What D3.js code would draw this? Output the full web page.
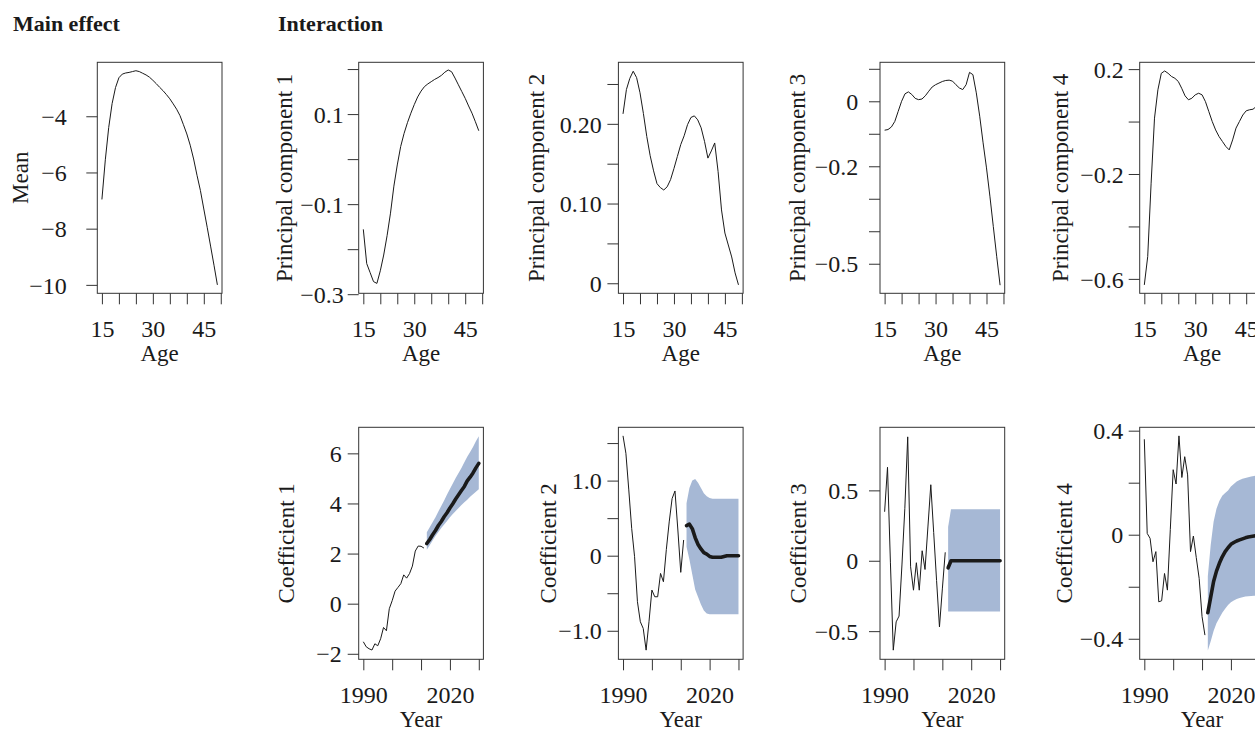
<!DOCTYPE html>
<html>
<head>
<meta charset="utf-8">
<script src="https://cdn.jsdelivr.net/npm/d3@7"></script>
<style>
  body { margin: 0; background: #fff; }
  svg { display: block; }
</style>
</head>
<body>
<svg id="chart" width="1255" height="731"></svg>
<script>
// ---------------- DATA ----------------
const ages = d3.range(15, 50);              // 15..49
const histYears = d3.range(1990, 2012);     // 1990..2011
const fcYears = d3.range(2012, 2031);       // 2012..2030

const meanEffect = [-6.96, -5.55, -4.4, -3.55, -2.98, -2.63, -2.5, -2.46, -2.44, -2.41, -2.38, -2.41, -2.47, -2.53, -2.61,
  -2.72, -2.84, -2.97, -3.09, -3.23, -3.38, -3.56, -3.75, -3.98, -4.3, -4.63, -5.03, -5.52, -6.1, -6.64,
  -7.3, -7.95, -8.62, -9.3, -10.0];
const pc1 = [-0.156, -0.232, -0.252, -0.272, -0.276, -0.248, -0.213, -0.17, -0.12, -0.06, -0.013, 0.028, 0.057, 0.081, 0.102,
  0.121, 0.138, 0.151, 0.161, 0.167, 0.172, 0.177, 0.181, 0.186, 0.193, 0.198, 0.194, 0.180, 0.165, 0.150,
  0.135, 0.118, 0.102, 0.083, 0.063];
const pc2 = [0.2125, 0.243, 0.257, 0.266, 0.258, 0.239, 0.213, 0.184, 0.160, 0.141, 0.125, 0.120, 0.117, 0.121, 0.130,
  0.144, 0.159, 0.174, 0.185, 0.199, 0.208, 0.210, 0.205, 0.195, 0.178, 0.157, 0.166, 0.176, 0.140, 0.092,
  0.063, 0.048, 0.033, 0.013, -0.002];
const pc3 = [-0.089, -0.087, -0.079, -0.062, -0.031, 0.0, 0.023, 0.029, 0.021, 0.009, 0.005, 0.007, 0.017, 0.031, 0.044,
  0.051, 0.056, 0.061, 0.064, 0.065, 0.062, 0.051, 0.041, 0.036, 0.051, 0.089, 0.082, 0.026, -0.046, -0.128,
  -0.205, -0.292, -0.385, -0.477, -0.566];
const pc4 = [-0.623, -0.515, -0.235, 0.013, 0.121, 0.184, 0.193, 0.184, 0.172, 0.165, 0.153, 0.127, 0.098, 0.083, 0.089,
  0.102, 0.108, 0.102, 0.076, 0.038, 0.0, -0.032, -0.057, -0.076, -0.095, -0.108, -0.07, -0.025, 0.0, 0.025,
  0.041, 0.045, 0.047, 0.058, 0.068];

const coef1Hist = [-1.52, -1.72, -1.80, -1.85, -1.60, -1.68, -1.40, -0.95, -1.08, -0.2, 0.12, 0.5, 0.65, 0.8, 1.15,
  1.02, 1.2, 1.5, 2.1, 2.3, 2.29, 2.22];
const coef1Fc = [2.40, 2.56, 2.75, 2.92, 3.12, 3.28, 3.47, 3.63, 3.82, 3.99, 4.18, 4.35, 4.52, 4.68, 4.90, 5.05, 5.22, 5.42, 5.60];
const coef1Hi = [2.85, 3.05, 3.25, 3.45, 3.68, 3.90, 4.12, 4.36, 4.58, 4.80, 5.02, 5.22, 5.42, 5.65, 5.86, 6.05, 6.25, 6.48, 6.68];
const coef1Lo = [2.15, 2.33, 2.52, 2.70, 2.86, 3.02, 3.16, 3.30, 3.45, 3.58, 3.70, 3.82, 3.94, 4.05, 4.15, 4.27, 4.37, 4.47, 4.57];

const coef2Hist = [1.596, 1.364, 0.876, 0.364, -0.013, -0.613, -0.88, -0.969, -1.258, -0.88, -0.458, -0.547, -0.547, -0.236, -0.347,
  0.08, 0.45, 0.76, 0.862, 0.342, -0.222, 0.209];
const coef2Fc = [0.40, 0.42, 0.36, 0.24, 0.15, 0.09, 0.04, 0.02, -0.01, -0.02, -0.02, -0.02, -0.02, -0.01, 0.0, 0.0, 0.0, 0.0, 0.0];
const coef2Hi = [0.70, 0.90, 1.00, 1.02, 0.97, 0.90, 0.83, 0.79, 0.77, 0.76, 0.76, 0.76, 0.76, 0.76, 0.76, 0.76, 0.76, 0.76, 0.76];
const coef2Lo = [0.12, -0.05, -0.25, -0.45, -0.55, -0.65, -0.73, -0.77, -0.78, -0.78, -0.78, -0.78, -0.78, -0.78, -0.78, -0.78, -0.78, -0.78, -0.78];

const coef3Hist = [0.348, 0.664, -0.01, -0.635, -0.434, -0.393, -0.03, 0.37, 0.88, -0.043, -0.209, -0.014, -0.209, 0.071, -0.062,
  0.24, 0.54, 0.2, -0.14, -0.47, -0.2, 0.06];
const coef3Fc = [-0.05, 0.0, 0.0, 0.0, 0.0, 0.0, 0.0, 0.0, 0.0, 0.0, 0.0, 0.0, 0.0, 0.0, 0.0, 0.0, 0.0, 0.0, 0.0];
const coef3Hi = [0.24, 0.365, 0.365, 0.365, 0.365, 0.365, 0.365, 0.365, 0.365, 0.365, 0.365, 0.365, 0.365, 0.365, 0.365, 0.365, 0.365, 0.365, 0.365];
const coef3Lo = [-0.36, -0.36, -0.36, -0.36, -0.36, -0.36, -0.36, -0.36, -0.36, -0.36, -0.36, -0.36, -0.36, -0.36, -0.36, -0.36, -0.36, -0.36, -0.36];

const coef4Hist = [0.367, 0.005, -0.014, -0.104, -0.065, -0.258, -0.254, -0.149, -0.213, 0.02, 0.25, 0.195, 0.38, 0.22, 0.30,
  0.23, -0.065, -0.005, -0.088, -0.168, -0.315, -0.386];
const coef4Fc = [-0.30, -0.24, -0.18, -0.14, -0.11, -0.085, -0.065, -0.05, -0.037, -0.03, -0.024, -0.02, -0.016, -0.012, -0.009, -0.007, -0.005, -0.003, -0.002];
const coef4Hi = [-0.16, -0.04, 0.05, 0.10, 0.13, 0.15, 0.16, 0.17, 0.185, 0.195, 0.205, 0.21, 0.215, 0.218, 0.221, 0.224, 0.226, 0.228, 0.23];
const coef4Lo = [-0.445, -0.41, -0.37, -0.34, -0.32, -0.30, -0.285, -0.27, -0.26, -0.253, -0.247, -0.243, -0.240, -0.238, -0.237, -0.236, -0.235, -0.235, -0.235];

// ticks and tick labels
const ageTicks = [15, 20, 25, 30, 35, 40, 45, 50];
const ageTickLabels = ["15", "", "", "30", "", "", "45", ""];
const yearTicks = [1990, 2000, 2010, 2020, 2030];
const yearTickLabels = ["1990", "", "", "2020", ""];

const meanTicks = [-10, -8, -6, -4];
const meanTickLabels = ["−10", "−8", "−6", "−4"];
const pc1Ticks = [-0.3, -0.2, -0.1, 0, 0.1, 0.2];
const pc1TickLabels = ["−0.3", "", "−0.1", "", "0.1", ""];
const pc2Ticks = [0, 0.05, 0.10, 0.15, 0.20, 0.25];
const pc2TickLabels = ["0", "", "0.10", "", "0.20", ""];
const pc3Ticks = [-0.5, -0.4, -0.3, -0.2, -0.1, 0, 0.1];
const pc3TickLabels = ["−0.5", "", "", "−0.2", "", "0", ""];
const pc4Ticks = [-0.6, -0.4, -0.2, 0, 0.2];
const pc4TickLabels = ["−0.6", "", "−0.2", "", "0.2"];
const coef1Ticks = [-2, 0, 2, 4, 6];
const coef1TickLabels = ["−2", "0", "2", "4", "6"];
const coef2Ticks = [-1, -0.5, 0, 0.5, 1, 1.5];
const coef2TickLabels = ["−1.0", "", "0", "", "1.0", ""];
const coef3Ticks = [-0.5, 0, 0.5];
const coef3TickLabels = ["−0.5", "0", "0.5"];
const coef4Ticks = [-0.4, -0.2, 0, 0.2, 0.4];
const coef4TickLabels = ["−0.4", "", "0", "", "0.4"];

// ---------------- LAYOUT / STYLE ----------------
const FONT = '"Liberation Serif","Times New Roman",Times,serif';
const INK = "#1a1a1a";
const BAND = "#a6b8d5";
const BOX_W = 124.7;
const colLeft = [97.3, 358.7, 618.4, 880, 1139.7];
const topRow = { top: 62.3, bottom: 293.3 };
const botRow = { top: 427.3, bottom: 659.3 };
const ageDomain = [13.64, 50.36];
const yearDomain = [1988.4, 2031.6];

const svg = d3.select("#chart");

function zip(xs, ys) { return xs.map((t, i) => ({ t, v: ys[i] })); }
function zipBand(xs, lo, hi) { return xs.map((t, i) => ({ t, lo: lo[i], hi: hi[i] })); }

function drawPanel(cfg) {
  const left = colLeft[cfg.col];
  const row = cfg.row;
  const g = svg.append("g");
  const x = d3.scaleLinear().domain(cfg.xDomain).range([left, left + BOX_W]);
  const y = d3.scaleLinear().domain(cfg.yDomain).range([row.bottom, row.top]);

  if (cfg.band) {
    g.append("path")
      .datum(zipBand(fcYears, cfg.band.lo, cfg.band.hi))
      .attr("fill", BAND)
      .attr("d", d3.area().x(d => x(d.t)).y0(d => y(d.lo)).y1(d => y(d.hi)));
  }
  g.append("path")
    .datum(zip(cfg.xs, cfg.ys))
    .attr("fill", "none").attr("stroke", INK).attr("stroke-width", 1)
    .attr("stroke-linejoin", "round")
    .attr("d", d3.line().x(d => x(d.t)).y(d => y(d.v)));
  if (cfg.fc) {
    g.append("path")
      .datum(zip(fcYears, cfg.fc))
      .attr("fill", "none").attr("stroke", INK).attr("stroke-width", 3.6)
      .attr("stroke-linejoin", "round").attr("stroke-linecap", "round")
      .attr("d", d3.line().x(d => x(d.t)).y(d => y(d.v)));
  }

  // box
  g.append("rect")
    .attr("x", left).attr("y", row.top)
    .attr("width", BOX_W).attr("height", row.bottom - row.top)
    .attr("fill", "none").attr("stroke", "#333").attr("stroke-width", 1);

  // x axis
  const xl = cfg.xTicks.map((t, i) => [t, cfg.xLabels[i]]);
  const xMap = new Map(xl);
  const ax = g.append("g").attr("transform", `translate(0,${row.bottom})`)
    .call(d3.axisBottom(x).tickValues(cfg.xTicks).tickSize(11).tickFormat(d => xMap.get(d)));
  ax.select(".domain").remove();
  ax.selectAll(".tick line").attr("stroke", "#333");
  ax.selectAll(".tick text").attr("y", 43.5).attr("dy", 0)
    .attr("font-family", FONT).attr("font-size", 24).attr("fill", INK);

  // y axis
  const yMap = new Map(cfg.yTicks.map((t, i) => [t, cfg.yLabels[i]]));
  const ay = g.append("g").attr("transform", `translate(${left},0)`)
    .call(d3.axisLeft(y).tickValues(cfg.yTicks).tickSize(11).tickFormat(d => yMap.get(d)));
  ay.select(".domain").remove();
  ay.selectAll(".tick line").attr("stroke", "#333");
  ay.selectAll(".tick text").attr("x", -cfg.labelOff).attr("dy", "0.34em")
    .attr("font-family", FONT).attr("font-size", 24).attr("fill", INK);

  // axis titles
  g.append("text")
    .attr("x", left + BOX_W / 2).attr("y", row.bottom + 68)
    .attr("text-anchor", "middle")
    .attr("font-family", FONT).attr("font-size", 23).attr("fill", INK)
    .text(cfg.xTitle);
  const cy = (row.top + row.bottom) / 2;
  g.append("text")
    .attr("transform", `translate(${left - cfg.titleOff},${cy}) rotate(-90)`)
    .attr("text-anchor", "middle")
    .attr("font-family", FONT).attr("font-size", 23).attr("fill", INK)
    .text(cfg.yTitle);
}

const topBase = { row: topRow, xDomain: ageDomain, xs: ages, xTicks: ageTicks, xLabels: ageTickLabels, xTitle: "Age" };
const botBase = { row: botRow, xDomain: yearDomain, xs: histYears, xTicks: yearTicks, xLabels: yearTickLabels, xTitle: "Year" };

drawPanel({ ...topBase, col: 0, ys: meanEffect, yDomain: [-10.3, -2.08], yTicks: meanTicks, yLabels: meanTickLabels,
  yTitle: "Mean", labelOff: 30.6, titleOff: 69.2 });
drawPanel({ ...topBase, col: 1, ys: pc1, yDomain: [-0.298, 0.215], yTicks: pc1Ticks, yLabels: pc1TickLabels,
  yTitle: "Principal component 1", labelOff: 15, titleOff: 66.9 });
drawPanel({ ...topBase, col: 2, ys: pc2, yDomain: [-0.0126, 0.2772], yTicks: pc2Ticks, yLabels: pc2TickLabels,
  yTitle: "Principal component 2", labelOff: 16.6, titleOff: 74 });
drawPanel({ ...topBase, col: 3, ys: pc3, yDomain: [-0.591, 0.12], yTicks: pc3Ticks, yLabels: pc3TickLabels,
  yTitle: "Principal component 3", labelOff: 21.7, titleOff: 74.9 });
drawPanel({ ...topBase, col: 4, ys: pc4, yDomain: [-0.655, 0.226], yTicks: pc4Ticks, yLabels: pc4TickLabels,
  yTitle: "Principal component 4", labelOff: 16, titleOff: 71.3 });

drawPanel({ ...botBase, col: 1, ys: coef1Hist, fc: coef1Fc, band: { lo: coef1Lo, hi: coef1Hi },
  yDomain: [-2.22, 7.04], yTicks: coef1Ticks, yLabels: coef1TickLabels, yTitle: "Coefficient 1", labelOff: 17, titleOff: 64.4 });
drawPanel({ ...botBase, col: 2, ys: coef2Hist, fc: coef2Fc, band: { lo: coef2Lo, hi: coef2Hi },
  yDomain: [-1.38, 1.71], yTicks: coef2Ticks, yLabels: coef2TickLabels, yTitle: "Coefficient 2", labelOff: 16.6, titleOff: 62 });
drawPanel({ ...botBase, col: 3, ys: coef3Hist, fc: coef3Fc, band: { lo: coef3Lo, hi: coef3Hi },
  yDomain: [-0.70, 0.948], yTicks: coef3Ticks, yLabels: coef3TickLabels, yTitle: "Coefficient 3", labelOff: 21.7, titleOff: 74.1 });
drawPanel({ ...botBase, col: 4, ys: coef4Hist, fc: coef4Fc, band: { lo: coef4Lo, hi: coef4Hi },
  yDomain: [-0.479, 0.413], yTicks: coef4Ticks, yLabels: coef4TickLabels, yTitle: "Coefficient 4", labelOff: 16.4, titleOff: 68.1 });

// section headings
svg.append("text").attr("x", 13).attr("y", 31)
  .attr("font-family", FONT).attr("font-size", 22).attr("font-weight", "bold").attr("fill", INK)
  .text("Main effect");
svg.append("text").attr("x", 278).attr("y", 31)
  .attr("font-family", FONT).attr("font-size", 22).attr("font-weight", "bold").attr("fill", INK)
  .text("Interaction");
</script>
</body>
</html>
